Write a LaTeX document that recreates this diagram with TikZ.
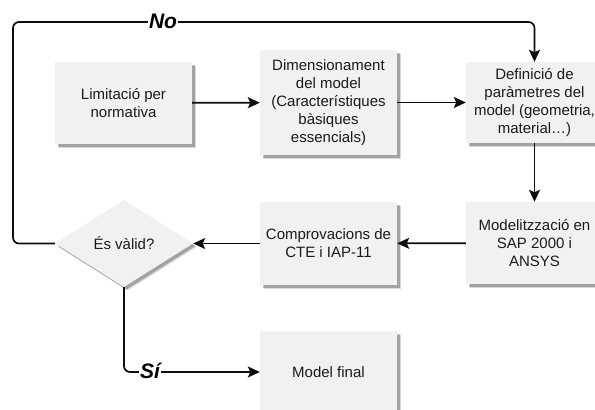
\documentclass[tikz,border=0pt]{standalone}
\usepackage{fontspec}
\setmainfont{Liberation Sans}
\usetikzlibrary{arrows.meta,shadows,shapes.geometric}
\definecolor{boxfill}{HTML}{F1F1F1}
\definecolor{txt}{HTML}{1A1A1A}
\definecolor{ln}{HTML}{0D0D0D}
\tikzset{
  shad/.style={drop shadow={shadow xshift=3.5pt,shadow yshift=-3.5pt,fill=black,opacity=0.15},
               drop shadow={shadow xshift=2.5pt,shadow yshift=-2.5pt,fill=black,opacity=0.25}},
  box/.style={shad,fill=boxfill,draw=none,text=txt,align=center,inner sep=0pt,
              minimum width=137pt,font=\fontsize{15}{18}\selectfont},
  dec/.style={diamond,shad,fill=boxfill,draw=none,text=txt,inner sep=0pt,
              minimum width=138pt,minimum height=87pt,font=\fontsize{15}{18}\selectfont},
  conn/.style={draw=ln,line width=1.7pt,-{Stealth[length=12pt,width=11pt,inset=2.5pt]}},
  lbl/.style={fill=white,inner sep=1pt,text=black,font=\fontsize{21}{24}\selectfont\bfseries\itshape}
}
\begin{document}
\begin{tikzpicture}[x=1pt,y=-1pt]
\useasboundingbox (0,0) rectangle (595,410);
\clip (0,0) rectangle (595,410);
\fill[white] (0,0) rectangle (595,410);
\node[box,minimum height=82pt] (lim) at (123.5,103) {Limitació per\\normativa};
\node[box,minimum height=105pt] (dim) at (328.5,102.5) {Dimensionament\\del model\\(Característiques\\bàsiques\\essencials)};
\node[box,minimum height=81pt] (def) at (534.5,102.5) {Definició de\\paràmetres del\\model (geometria,\\material…)};
\node[box,minimum height=82pt] (mod) at (534.5,243) {Modelitzzació en\\SAP 2000 i\\ANSYS};
\node[box,minimum height=83pt] (com) at (328.5,243.5) {Comprovacions de\\CTE i IAP-11};
\node[dec] (val) at (124,243.5) {És vàlid?};
\node[box,minimum height=82pt] (fin) at (328.5,372) {Model final};
\coordinate (tl) at (13,22);
\draw[conn] (lim) -- (dim);
\draw[conn] (dim) -- (def);
\draw[conn] (def) -- (mod);
\draw[conn] (mod) -- (com);
\draw[conn] (com) -- (val);
\draw[conn,rounded corners=6pt] (val.west) -| (tl) -| (def.north);
\draw[conn,rounded corners=6pt] (val.south) |- (fin.west);
\node[lbl] (no) at (163,21) {No};
\node[lbl] (si) at (150,371) {Sí};
\end{tikzpicture}
\end{document}
